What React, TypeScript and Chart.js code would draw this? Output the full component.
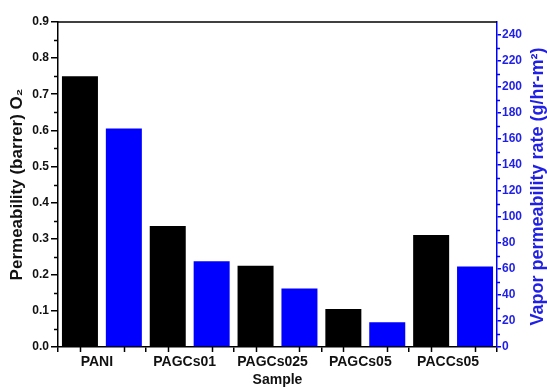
import React, { useEffect, useRef } from 'react';
import { Chart, registerables } from 'chart.js';

Chart.register(...registerables);

const categories = ['PANI', 'PAGCs01', 'PAGCs025', 'PAGCs05', 'PACCs05'];
const o2Permeability = [0.75, 0.335, 0.225, 0.105, 0.31];
const vaporRate = [168, 66, 45, 19, 62];

const leftMax = 0.9;
const leftStep = 0.1;
const rightMax = 250;
const rightStep = 20;

const leftTitle = 'Permeability (barrer) O\u2082';
const rightTitle = 'Vapor permeability rate (g/hr-m\u00B2)';
const bottomTitle = 'Sample';

const BLUE = '#0000ff';
const BLUE_TEXT = '#1f1fe6';
const FONT = '"Liberation Sans", Arial, sans-serif';

const decor = {
  id: 'decor',
  afterDraw(chart: any) {
    const { ctx, chartArea, scales } = chart;
    const { left, right, top, bottom } = chartArea;
    const line = (x1: number, y1: number, x2: number, y2: number) => {
      ctx.beginPath();
      ctx.moveTo(x1, y1);
      ctx.lineTo(x2, y2);
      ctx.stroke();
    };
    ctx.save();
    ctx.lineWidth = 1.5;
    ctx.strokeStyle = '#000';
    line(left, top, right, top);
    // left minor ticks
    const y = scales.y;
    for (let v = leftStep / 2; v < leftMax; v += leftStep) {
      const py = Math.round(y.getPixelForValue(v)) + 0.5;
      line(left - 4, py, left, py);
    }
    // bar-centre ticks on x axis
    chart.data.datasets.forEach((_: any, i: number) => {
      const meta = chart.getDatasetMeta(i);
      meta.data.forEach((el: any) => {
        const px = Math.round(el.x) + 0.5;
        line(px, bottom, px, bottom + 5);
      });
    });
    // right minor ticks
    ctx.strokeStyle = BLUE;
    const y1 = scales.y1;
    for (let v = rightStep / 2; v < rightMax; v += rightStep) {
      const py = Math.round(y1.getPixelForValue(v)) + 0.5;
      line(right, py, right + 3, py);
    }
    // right title, reading bottom-to-top
    ctx.translate(y1.right - 9, (top + bottom) / 2 + 2);
    ctx.rotate(-Math.PI / 2);
    ctx.font = `bold 18px ${FONT}`;
    ctx.fillStyle = BLUE_TEXT;
    ctx.textAlign = 'center';
    ctx.textBaseline = 'middle';
    ctx.fillText(rightTitle, 0, 0);
    ctx.restore();
  },
};

export default function App() {
  const canvasRef = useRef<HTMLCanvasElement | null>(null);

  useEffect(() => {
    if (!canvasRef.current) return;
    const chart = new Chart(canvasRef.current, {
      type: 'bar',
      data: {
        labels: categories,
        datasets: [
          {
            label: 'O2 permeability',
            data: o2Permeability,
            backgroundColor: '#000000',
            yAxisID: 'y',
            categoryPercentage: 1.0,
            barPercentage: 0.82,
          },
          {
            label: 'Vapor permeability rate',
            data: vaporRate,
            backgroundColor: BLUE,
            yAxisID: 'y1',
            categoryPercentage: 1.0,
            barPercentage: 0.82,
          },
        ],
      },
      options: {
        responsive: false,
        animation: false,
        devicePixelRatio: 1,
        layout: { padding: { top: 22, left: 0, right: 0, bottom: 0 } },
        plugins: {
          legend: { display: false },
          tooltip: { enabled: false },
        },
        scales: {
          x: {
            offset: true,
            grid: {
              offset: true,
              drawOnChartArea: false,
              drawTicks: true,
              tickLength: 5,
              color: '#000',
              lineWidth: 1.5,
            },
            border: { color: '#000', width: 1.5 },
            ticks: {
              color: '#111',
              font: { family: FONT, size: 14, weight: 'bold' },
              padding: 2,
              labelOffset: -5,
              maxRotation: 0,
            },
            title: {
              display: true,
              text: bottomTitle,
              color: '#111',
              font: { family: FONT, size: 14, weight: 'bold', lineHeight: 1 },
              padding: { top: 0, bottom: 0 },
            },
            afterFit(scale: any) {
              scale.height = 40;
            },
          },
          y: {
            position: 'left',
            min: 0,
            max: leftMax,
            grid: {
              drawOnChartArea: false,
              drawTicks: true,
              tickLength: 7,
              color: '#000',
              lineWidth: 1.5,
            },
            border: { color: '#000', width: 1.5 },
            ticks: {
              stepSize: leftStep,
              color: '#111',
              font: { family: FONT, size: 12, weight: 'bold' },
              padding: 2,
              callback: (v: any) => Number(v).toFixed(1),
            },
            title: {
              display: true,
              text: leftTitle,
              color: '#111',
              font: { family: FONT, size: 17, weight: 'bold', lineHeight: 1 },
              padding: { top: 9, bottom: 0 },
            },
            afterFit(scale: any) {
              scale.width = 58;
            },
          },
          y1: {
            position: 'right',
            min: 0,
            max: rightMax,
            grid: {
              drawOnChartArea: false,
              drawTicks: true,
              tickLength: 4,
              color: BLUE,
              lineWidth: 1.5,
            },
            border: { color: BLUE, width: 1.5 },
            ticks: {
              stepSize: rightStep,
              includeBounds: false,
              color: BLUE_TEXT,
              font: { family: FONT, size: 12, weight: 'bold' },
              padding: 1,
            },
            afterFit(scale: any) {
              scale.width = 50;
            },
          },
        },
      },
      plugins: [decor],
    } as any);
    return () => chart.destroy();
  }, []);

  return (
    <div style={{ position: 'absolute', left: 0, top: 0, width: 547, height: 387, background: '#fff' }}>
      <canvas ref={canvasRef} width={547} height={387} />
    </div>
  );
}
